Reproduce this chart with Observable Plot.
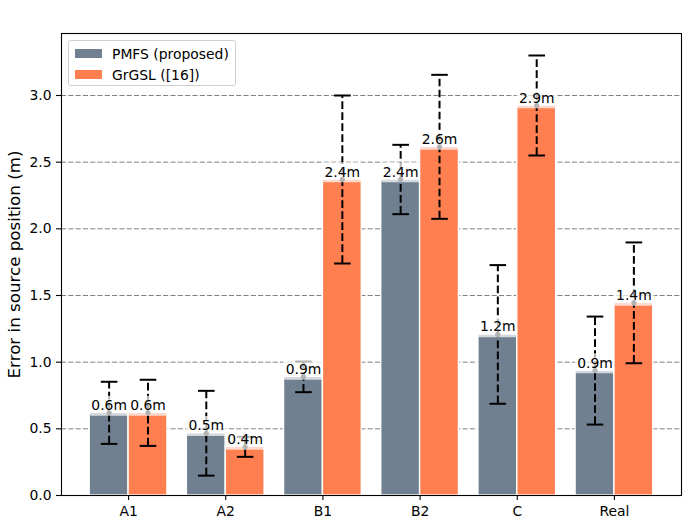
<!DOCTYPE html>
<html><head><meta charset="utf-8">
<script src="https://cdn.jsdelivr.net/npm/d3@7"></script>
<script src="https://cdn.jsdelivr.net/npm/@observablehq/plot@0.6"></script>
<style>
body{margin:0;background:#fff;font-family:"DejaVu Sans";}
#wrap{position:relative;width:700px;height:521px;}
#wrap svg text{font-family:"DejaVu Sans";}
.legend{position:absolute;left:68px;top:40px;width:168px;height:46px;box-sizing:border-box;border:1px solid #d0d0d0;border-radius:3px;background:rgba(255,255,255,0.8);font-family:"DejaVu Sans";font-size:13.9px;color:#000;}
.legend .row{position:absolute;left:0;height:14px;}
.legend .sw{position:absolute;left:6px;width:27px;height:9px;}
.legend .lb{position:absolute;left:43px;white-space:nowrap;line-height:14px;}
</style>
</head><body>
<div id="wrap"></div>
<script>
const cats = ["A1", "A2", "B1", "B2", "C", "Real"];
const seriesNames = ["PMFS (proposed)", "GrGSL ([16])"];
const seriesColors = ["#708090", "#FF7F50"];
const pmfsMean = [0.62, 0.467, 0.89, 2.37, 1.208, 0.937];
const pmfsErr = [0.233, 0.318, 0.115, 0.26, 0.52, 0.405];
const grgslMean = [0.62, 0.365, 2.37, 2.615, 2.925, 1.445];
const grgslErr = [0.248, 0.075, 0.63, 0.54, 0.375, 0.453];
const yTicks = [0, 0.5, 1.0, 1.5, 2.0, 2.5, 3.0];
const yLabel = "Error in source position (m)";

const FONT = "DejaVu Sans";
const barW = 0.4;
const toRows = (means, errs, k) => cats.map((c, i) => ({i, cat: c, k, mean: means[i], err: errs[i]}));
const data = [toRows(pmfsMean, pmfsErr, 0), toRows(grgslMean, grgslErr, 1)];
const fmt = d3.format(".1f");

const capSym = {draw(ctx, size) { const r = Math.sqrt(size / Math.PI); ctx.moveTo(-r, 0); ctx.lineTo(r, 0); }};
const boxSym = {draw(ctx) {
  const w = 20.5, t = -17.2, b = 2.8, rr = 2.8;
  ctx.moveTo(-w + rr, t); ctx.lineTo(w - rr, t); ctx.arcTo(w, t, w, t + rr, rr);
  ctx.lineTo(w, b - rr); ctx.arcTo(w, b, w - rr, b, rr);
  ctx.lineTo(-w + rr, b); ctx.arcTo(-w, b, -w, b - rr, rr);
  ctx.lineTo(-w, t + rr); ctx.arcTo(-w, t, -w + rr, t, rr); ctx.closePath();
}};

function layer(d, k) {
  const xc = r => r.i + (k === 0 ? -barW / 2 : barW / 2);
  return [
    Plot.rect(d, {x1: r => r.i + (k === 0 ? -barW : 0), x2: r => r.i + (k === 0 ? 0 : barW), y1: 0, y2: "mean",
      fill: seriesColors[k], stroke: "white", strokeWidth: 1.4}),
    Plot.ruleX(d, {x: xc, y1: r => r.mean - r.err, y2: r => r.mean + r.err, stroke: "black", strokeWidth: 2, strokeDasharray: "7.7,3.3"}),
    Plot.dot(d, {x: xc, y: r => r.mean - r.err, symbol: capSym, r: 8.3, stroke: "black", strokeWidth: 2, fill: "none"}),
    Plot.dot(d, {x: xc, y: r => r.mean + r.err, symbol: capSym, r: 8.3, stroke: "black", strokeWidth: 2, fill: "none"}),
    Plot.dot(d, {x: xc, y: "mean", r: 2.6, fill: "black", stroke: "none"}),
    Plot.dot(d, {x: xc, y: "mean", symbol: boxSym, r: 5, fill: "white", fillOpacity: 0.7, stroke: "none"}),
    Plot.text(d, {x: xc, y: "mean", text: r => fmt(r.mean) + "m", lineAnchor: "bottom", dy: -3, fontSize: 13.9, fontFamily: FONT, fill: "black"})
  ];
}

const chart = Plot.plot({
  width: 700, height: 521,
  marginLeft: 61, marginRight: 19, marginTop: 33, marginBottom: 26,
  style: "font-family: 'DejaVu Sans'; font-size: 13.9px; color: black; background: white;",
  x: {type: "linear", domain: [-0.69, 5.69], axis: null},
  y: {domain: [0, 3.465], axis: null},
  marks: [
    Plot.gridY(yTicks.slice(1), {stroke: "gray", strokeOpacity: 1, strokeWidth: 1, strokeDasharray: "5.1,2.2"}),
    ...layer(data[0], 0),
    ...layer(data[1], 1),
    Plot.axisX({ticks: cats.map((c, i) => i), tickFormat: i => cats[i], tickSize: 5, tickPadding: 6, label: null, strokeWidth: 1.1, fontSize: 13.9, fontFamily: FONT}),
    Plot.axisY({ticks: yTicks, tickFormat: d3.format(".1f"), tickSize: 5, tickPadding: 5, label: null, strokeWidth: 1.1, fontSize: 13.9, fontFamily: FONT}),
    Plot.text([yLabel], {text: d => d, frameAnchor: "left", textAnchor: "middle", dx: -47, rotate: -90, fontSize: 16.7, fontFamily: FONT, fill: "black"}),
    Plot.frame({stroke: "black", strokeWidth: 1.1})
  ]
});

const wrap = document.getElementById("wrap");
wrap.appendChild(chart);
const leg = document.createElement("div");
leg.className = "legend";
seriesNames.forEach((name, k) => {
  const row = document.createElement("div");
  row.className = "row";
  row.style.top = (5.5 + k * 21) + "px";
  row.innerHTML = `<div class="sw" style="top:2.5px;background:${seriesColors[k]}"></div><div class="lb">${name}</div>`;
  leg.appendChild(row);
});
wrap.appendChild(leg);
</script>
</body></html>
